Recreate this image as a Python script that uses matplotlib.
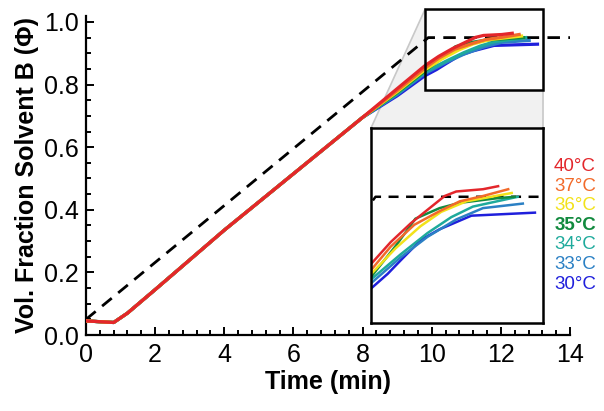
import numpy as np
import matplotlib
matplotlib.use("Agg")
import matplotlib.pyplot as plt
from matplotlib.patches import Rectangle, Polygon
from matplotlib.ticker import MultipleLocator

plt.rcParams['font.family'] = ['Liberation Sans', 'DejaVu Sans']

# gradient program (dashed)
grad_t = [0, 9.9, 14]
grad_phi = [0.05, 0.95, 0.95]

# shared early part of the measured curves
head_t = [0, 0.8, 1.2, 2.0, 3.0, 4.0, 5.0, 6.0, 7.0, 8.0]
head_phi = [0.045, 0.04, 0.07, 0.145, 0.24, 0.335, 0.425, 0.515, 0.605, 0.695]

labels = ['30°C', '33°C', '34°C', '35°C', '36°C', '37°C', '40°C']
colors = ['#1f1fdc', '#2b80c4', '#1eaa9c', '#128a3e', '#f2e21a', '#f26a2a', '#e3262b']

tail_t = {
    '30°C': [9.0, 9.8, 10.14, 10.4, 10.8, 11.17, 11.8, 13.06],
    '33°C': [9.0, 9.8, 10.4, 10.93, 11.5, 12.03, 12.82],
    '34°C': [9.0, 9.8, 10.4, 10.93, 11.4, 11.83, 12.72],
    '35°C': [9.0, 9.8, 10.3, 10.69, 11.17, 11.57, 12.3, 12.66],
    '36°C': [9.0, 9.8, 10.3, 10.79, 11.2, 11.7, 12.6],
    '37°C': [9.0, 9.81, 10.2, 10.67, 11.17, 11.57, 12.03, 12.53],
    '40°C': [9.0, 9.81, 10.2, 10.6, 10.73, 11.27, 11.5, 12.03, 12.33],
}
tail_phi = {
    '30°C': [0.764, 0.828, 0.848, 0.866, 0.893, 0.907, 0.925, 0.929],
    '33°C': [0.768, 0.835, 0.870, 0.897, 0.920, 0.935, 0.941],
    '34°C': [0.771, 0.840, 0.874, 0.902, 0.923, 0.937, 0.950],
    '35°C': [0.774, 0.843, 0.885, 0.921, 0.935, 0.942, 0.948, 0.950],
    '36°C': [0.777, 0.847, 0.882, 0.911, 0.930, 0.944, 0.955],
    '37°C': [0.781, 0.853, 0.884, 0.913, 0.931, 0.944, 0.951, 0.960],
    '40°C': [0.787, 0.861, 0.890, 0.915, 0.922, 0.951, 0.957, 0.960, 0.964],
}

# zoom window
zx = (9.81, 13.22)
zy = (0.783, 1.041)

fig = plt.figure(figsize=(6.04, 4.11), dpi=100)
ax = fig.add_axes([0.1424, 0.1849, 0.8013, 0.7769])
ax.set_facecolor('none')

ax.plot(grad_t, grad_phi, color='black', lw=2, dashes=(4.5, 3), zorder=3)
for lab, c in zip(labels, colors):
    t = head_t + tail_t[lab]
    p = head_phi + tail_phi[lab]
    ax.plot(t, p, color=c, lw=2.3, zorder=4)

ax.set_xlim(0, 14)
ax.set_ylim(0, 1.02)
ax.xaxis.set_major_locator(MultipleLocator(2))
ax.xaxis.set_minor_locator(MultipleLocator(0.4))
ax.yaxis.set_major_locator(MultipleLocator(0.2))
ax.yaxis.set_minor_locator(MultipleLocator(0.05))
ax.yaxis.set_major_formatter(plt.FormatStrFormatter('%.1f'))
for s in ['top', 'right']:
    ax.spines[s].set_visible(False)
for s in ['left', 'bottom']:
    ax.spines[s].set_linewidth(1.6)
ax.tick_params(which='both', direction='in', width=1.4, labelsize=18)
ax.tick_params(which='major', length=6)
ax.tick_params(axis='x', which='major', pad=6)
ax.tick_params(axis='y', which='major', pad=5)
ax.tick_params(which='minor', length=3.5)
ax.set_xlabel('Time (min)', fontsize=18, fontweight='bold', labelpad=2)
ax.set_ylabel('Vol. Fraction Solvent B (Φ)', fontsize=18, fontweight='bold', labelpad=4)

# inset
ins_pos = [371 / 604, 1 - 323 / 411, 172 / 604, 195 / 411]
axi = fig.add_axes(ins_pos, zorder=5)
axi.plot(grad_t, grad_phi, color='black', lw=1.8, dashes=(4, 3))
for lab, c in zip(labels, colors):
    axi.plot(tail_t[lab], tail_phi[lab], color=c, lw=1.8)
axi.set_xlim(*zx)
axi.set_ylim(*zy)
axi.set_xticks([])
axi.set_yticks([])
for s in axi.spines.values():
    s.set_linewidth(1.8)

# zoom marker and connecting shade (figure coords)
to_fig = ax.transData + fig.transFigure.inverted()
tl = to_fig.transform((zx[0], zy[1]))
bl = to_fig.transform((zx[0], zy[0]))
br = to_fig.transform((zx[1], zy[0]))
itl = (ins_pos[0], ins_pos[1] + ins_pos[3])
itr = (ins_pos[0] + ins_pos[2], ins_pos[1] + ins_pos[3])
shade = Polygon([tl, bl, br, itr, itl], closed=True, transform=fig.transFigure,
                facecolor='#f1f1f1', edgecolor='none', zorder=-2)
fig.patches.append(shade)
fig.lines.append(plt.Line2D([tl[0], itl[0]], [tl[1], itl[1]], transform=fig.transFigure,
                            color='#c8c8c8', lw=1.2, zorder=-1))
fig.lines.append(plt.Line2D([br[0], itr[0]], [br[1], itr[1]], transform=fig.transFigure,
                            color='#c8c8c8', lw=1.2, zorder=-1))
ax.add_patch(Rectangle((zx[0], zy[0]), zx[1] - zx[0], zy[1] - zy[0], fill=False,
                       edgecolor='black', lw=1.8, clip_on=False, zorder=6))

# temperature labels
for i, (lab, c) in enumerate(zip(labels, colors)):
    fig.text(596 / 604, 1 - (284 - i * 19.6) / 411, lab, color=c, fontsize=13.5,
             ha='right', va='center', fontweight='bold' if lab == '35°C' else 'normal')

fig.savefig('out.png', dpi=100)
